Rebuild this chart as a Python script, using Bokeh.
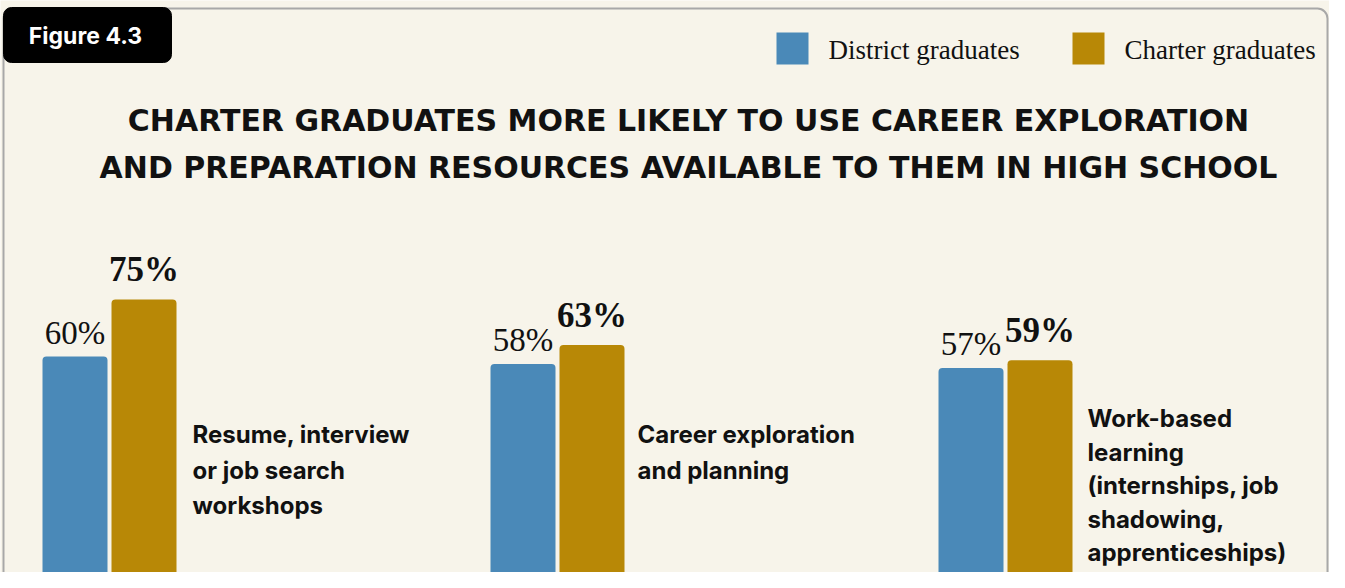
from bokeh.plotting import figure
from bokeh.models import Range1d
from bokeh.core.properties import value
from bokeh.embed import file_html
from bokeh.resources import INLINE

# ---- data ----
categories = [
    "Resume, interview\nor job search\nworkshops",
    "Career exploration\nand planning",
    "Work-based\nlearning\n(internships, job\nshadowing,\napprenticeships)",
]
district = [60, 58, 57]
charter = [75, 63, 59]
series_names = ["District graduates", "Charter graduates"]
title_lines = [
    "CHARTER GRADUATES MORE LIKELY TO USE CAREER EXPLORATION",
    "AND PREPARATION RESOURCES AVAILABLE TO THEM IN HIGH SCHOOL",
]
tag_text = "Figure 4.3"

# ---- style ----
BG = "#f7f4ea"
BLUE = "#4a89b8"
GOLD = "#b88806"
GREY = "#a8a8a8"

W, H = 1329, 572
PX_PER_PCT = 3.8
BASE_Y = 584  # image-y of 0%

y_lo = (BASE_Y - H) / PX_PER_PCT
y_hi = (BASE_Y - 0) / PX_PER_PCT
p = figure(width=W, height=H, output_backend="svg", toolbar_location=None,
           x_range=Range1d(0, W), y_range=Range1d(y_lo, y_hi),
           min_border=0, min_border_left=0, min_border_right=0,
           min_border_top=0, min_border_bottom=0)
p.extra_y_ranges = {"px": Range1d(H, 0)}
p.background_fill_color = BG
p.border_fill_color = BG
p.outline_line_color = None
p.axis.visible = False
p.grid.visible = False

# frame border
p.quad(left=3, right=W - 2, top=8, bottom=H + 20, y_range_name="px",
       fill_color=None, line_color=GREY, line_width=2, border_radius=10)

# figure tag
p.quad(left=3, right=171, top=7, bottom=62, y_range_name="px",
       fill_color="black", line_color="black", border_radius=8)
p.text(x=[85], y=[35], text=[tag_text], y_range_name="px",
       text_font=value("Inter"), text_font_style="bold", text_font_size="23px",
       text_color="white", text_align="center", text_baseline="middle")

# legend
leg_sq_left = [776, 1072]
leg_colors = [BLUE, GOLD]
p.quad(left=leg_sq_left, right=[x + 32 for x in leg_sq_left], top=[32, 32], bottom=[64, 64],
       y_range_name="px", fill_color=leg_colors, line_color=None)
p.text(x=[x + 52 for x in leg_sq_left], y=[49, 49], text=series_names, y_range_name="px",
       text_font=value("Liberation Serif"), text_font_size="27px", text_color="#111111",
       text_align="left", text_baseline="middle")

# title
p.text(x=[688, 688], y=[120, 167], text=title_lines, y_range_name="px",
       text_font=value("DejaVu Sans"), text_font_style="bold", text_font_size="30px",
       text_color="#111111", text_align="center", text_baseline="middle")

# bars
n = len(categories)
group_x0 = [42 + 448 * i for i in range(n)]
d_x = [g + 32.5 for g in group_x0]
c_x = [g + 101.5 for g in group_x0]
p.vbar(x=d_x, top=district, bottom=0, width=65, fill_color=BLUE, line_color=None,
       border_radius=(4, 4, 0, 0))
p.vbar(x=c_x, top=charter, bottom=0, width=65, fill_color=GOLD, line_color=None,
       border_radius=(4, 4, 0, 0))

# value labels
p.text(x=d_x, y=[v + 24 / PX_PER_PCT for v in district], text=[f"{v}%" for v in district],
       text_font=value("Liberation Serif"), text_font_size="33px", text_color="#111111",
       text_align="center", text_baseline="alphabetic")
p.text(x=c_x, y=[v + 30 / PX_PER_PCT for v in charter], text=[f"{v}%" for v in charter],
       text_font=value("Liberation Serif"), text_font_style="bold", text_font_size="35px",
       text_color="#111111", text_align="center", text_baseline="alphabetic")

# category labels, one line at a time
first_line_y = [434, 434, 418]
line_h = [35.5, 35.5, 33.5]
label_dx = [150, 147, 149]
lx, ly, lt = [], [], []
for i, cat in enumerate(categories):
    for k, line in enumerate(cat.split("\n")):
        lx.append(group_x0[i] + label_dx[i])
        ly.append(first_line_y[i] + k * line_h[i])
        lt.append(line)
p.text(x=lx, y=ly, text=lt, y_range_name="px",
       text_font=value("Inter"), text_font_style="bold", text_font_size="24px",
       text_color="#111111", text_align="left", text_baseline="middle")

open("out.html", "w").write(file_html(p, INLINE))
